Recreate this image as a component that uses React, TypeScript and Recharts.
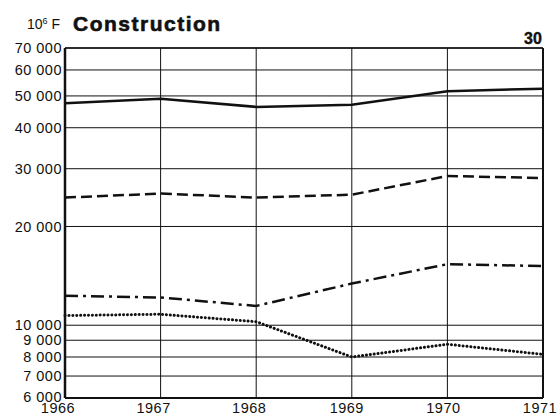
import React from 'react';
import {
  LineChart,
  Line,
  XAxis,
  YAxis,
  CartesianGrid,
  ReferenceLine,
} from 'recharts';

const years = [1966, 1967, 1968, 1969, 1970, 1971];
const yTicks = [6000, 7000, 8000, 9000, 10000, 20000, 30000, 40000, 50000, 60000, 70000];

// four series, told apart only by line style
const solidLine = [47500, 49000, 46300, 47000, 51700, 52600];
const dashedLine = [24500, 25200, 24500, 25000, 28500, 28100];
const dashDotLine = [12300, 12150, 11450, 13400, 15350, 15150];
const dottedLine = [10700, 10800, 10250, 8000, 8750, 8150];

const data = years.map((year, i) => ({
  year,
  solid: solidLine[i],
  dashed: dashedLine[i],
  dashDot: dashDotLine[i],
  dotted: dottedLine[i],
}));

const font = '"Liberation Sans", Arial, sans-serif';
const ink = '#111';

const fmt = (v: number) => String(v).replace(/(\d)(?=(\d{3})+$)/g, '$1 ');

// y tick labels sit on their gridline; the lowest one is nudged up off the year row
const YTick = (props: any) => {
  const { x, y, payload } = props;
  const lift = payload.value === 6000 ? -1.5 : 0;
  return (
    <text
      x={x}
      y={y + lift}
      dy="0.355em"
      textAnchor="end"
      fill={ink}
      fontSize={14.5}
      fontFamily={font}
      letterSpacing={0.5}
    >
      {fmt(payload.value)}
    </text>
  );
};

// year labels are set slightly left of their gridlines, less so towards the right
const xShift = [-7, -7, -7, -5, -4, -3];

const XTick = (props: any) => {
  const { x, y, payload, index } = props;
  return (
    <text
      x={x + (xShift[index] ?? 0)}
      y={y}
      dy="0.71em"
      textAnchor="middle"
      fill={ink}
      fontSize={14.5}
      fontFamily={font}
      letterSpacing={0.5}
    >
      {payload.value}
    </text>
  );
};

export default function App(): React.ReactElement {
  return (
    <div
      style={{
        position: 'absolute',
        left: 0,
        top: 0,
        width: 558,
        height: 419,
        background: '#fff',
        fontFamily: font,
        color: ink,
      }}
    >
      <div style={{ position: 'absolute', left: 27, top: 16, fontSize: 14 }}>
        10<sup style={{ fontSize: 9, verticalAlign: 5 }}>6</sup> F
      </div>
      <div
        style={{
          position: 'absolute',
          left: 73,
          top: 12,
          fontSize: 21,
          fontWeight: 700,
          letterSpacing: 1.5,
          WebkitTextStroke: `0.6px ${ink}`,
        }}
      >
        Construction
      </div>
      <div
        style={{
          position: 'absolute',
          left: 524,
          top: 30,
          fontSize: 16,
          fontWeight: 700,
          WebkitTextStroke: `0.4px ${ink}`,
        }}
      >
        30
      </div>
      <LineChart
        width={558}
        height={419}
        data={data}
        margin={{ top: 48, right: 15, bottom: 0, left: 0 }}
      >
        <CartesianGrid stroke={ink} strokeWidth={1} />
        <XAxis
          dataKey="year"
          type="number"
          domain={[1966, 1971]}
          ticks={years}
          height={21}
          tickSize={0}
          tickMargin={5}
          tickLine={false}
          axisLine={{ stroke: ink, strokeWidth: 2 }}
          tick={<XTick />}
          interval={0}
        />
        <YAxis
          scale="log"
          domain={[6000, 70000]}
          ticks={yTicks}
          allowDataOverflow
          width={65}
          tickSize={0}
          tickMargin={3}
          tickLine={false}
          axisLine={{ stroke: ink, strokeWidth: 2.5 }}
          tick={<YTick />}
          interval={0}
        />
        <ReferenceLine x={1971} stroke={ink} strokeWidth={2} />
        <ReferenceLine y={70000} stroke={ink} strokeWidth={1.5} />
        <Line
          dataKey="solid"
          stroke={ink}
          strokeWidth={2.5}
          dot={false}
          isAnimationActive={false}
        />
        <Line
          dataKey="dashed"
          stroke={ink}
          strokeWidth={2.5}
          strokeDasharray="11 5"
          dot={false}
          isAnimationActive={false}
        />
        <Line
          dataKey="dashDot"
          stroke={ink}
          strokeWidth={2.5}
          strokeDasharray="13 5 3 5"
          dot={false}
          isAnimationActive={false}
        />
        <Line
          dataKey="dotted"
          stroke={ink}
          strokeWidth={3}
          strokeDasharray="0.1 3.8"
          strokeLinecap="round"
          dot={false}
          isAnimationActive={false}
        />
      </LineChart>
    </div>
  );
}
